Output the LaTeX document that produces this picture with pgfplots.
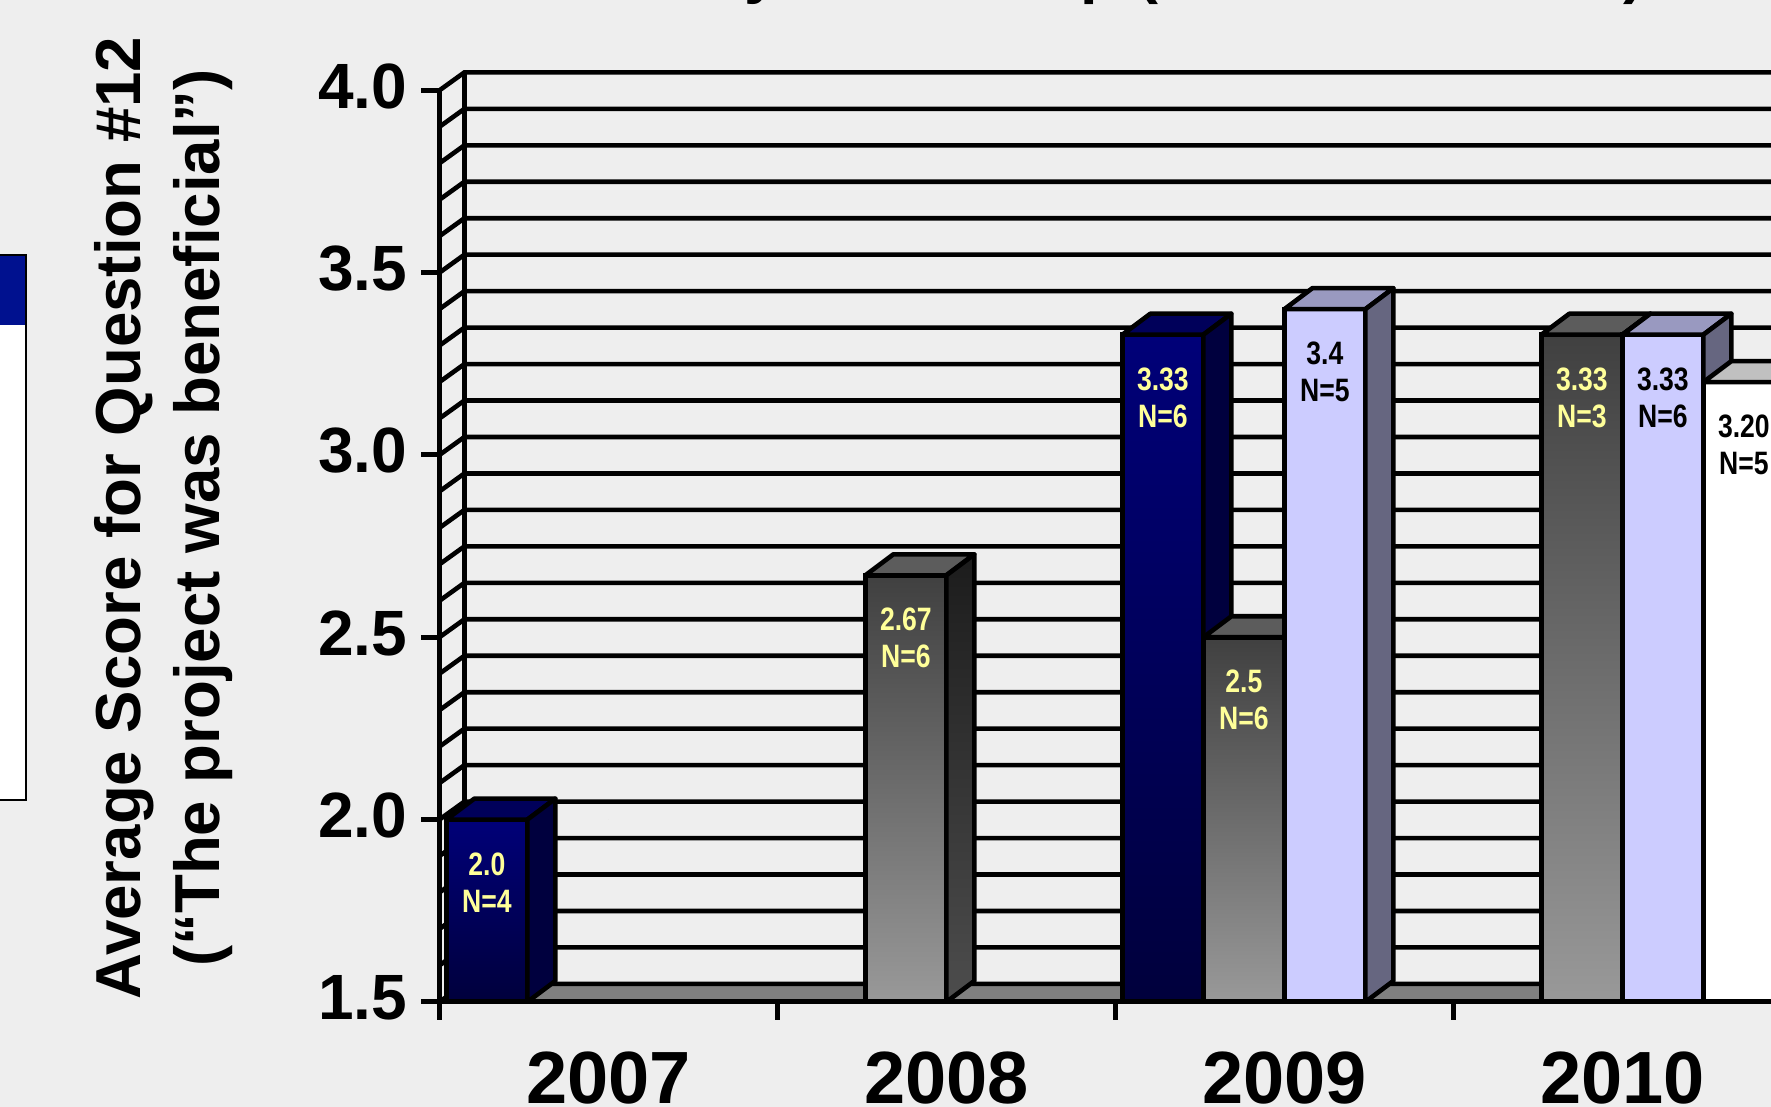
\documentclass[border=0pt]{standalone}
\usepackage{fontspec}
\setmainfont{Liberation Sans}
\newfontfamily\narrowfont{Liberation Sans}[FakeStretch=0.82]
\usepackage{pgfplots}
\usepackage{pgfplotstable}
\pgfplotsset{compat=1.18}

% colours
\definecolor{bg}{HTML}{EEEEEE}
\definecolor{floorgray}{HTML}{808080}
\definecolor{navytop}{HTML}{000078}
\definecolor{navybot}{HTML}{00003C}
\definecolor{navyside}{HTML}{00003E}
\definecolor{navylid}{HTML}{00005A}
\definecolor{graytop}{HTML}{404040}
\definecolor{graybot}{HTML}{999999}
\definecolor{grayside1}{HTML}{1C1C1C}
\definecolor{grayside2}{HTML}{4D4D4D}
\definecolor{graylid}{HTML}{5C5C5C}
\definecolor{lav}{HTML}{CCCCFF}
\definecolor{lavside}{HTML}{666680}
\definecolor{lavlid}{HTML}{9999C0}
\definecolor{whiteside}{HTML}{A0A0A0}
\definecolor{whitelid}{HTML}{C0C0C0}
\definecolor{lblyellow}{HTML}{FFFF99}
\definecolor{legblue}{HTML}{00118F}

\newcommand\lw{2.3bp}
\newcommand\lblfont{\narrowfont\bfseries\fontsize{16.2bp}{18.5bp}\selectfont}
\newcommand\yearfont{\bfseries\fontsize{37bp}{40bp}\selectfont}
\newcommand\ytickfont{\bfseries\fontsize{32bp}{36bp}\selectfont}

% average score per year (cat: 0=2007 ... 3=2010), n = respondents
\pgfplotstableread{
cat v n
0 2.0 4
2 3.33 6
}\tblnavy
\pgfplotstableread{
cat v n
1 2.67 6
2 2.5 6
3 3.33 3
}\tblgray
\pgfplotstableread{
cat v n
2 3.4 5
3 3.33 6
}\tbllav
\pgfplotstableread{
cat v n
3 3.20 5
}\tblwhite

% one series of 3-D bars: front faces as ybar (one plot per bar so each
% gets its own gradient), side and lid drawn from the same values
% #1 table, #2 categories, #3 bar shift, #4 front fill, #5 side fill,
% #6 lid fill, #7 label colour
\newcommand\barseries[7]{%
  \pgfplotsinvokeforeach{#2}{%
    \addplot[ybar, bar width=40.5bp, bar shift=#3, draw=black, line width=\lw, #4,
      restrict x to domain=##1:##1,
      point meta=explicit symbolic,
      visualization depends on={\thisrow{n}\as\nval},
      nodes near coords={\pgfplotspointmeta\\N=\pgfmathprintnumber{\nval}},
      every node near coord/.append style={anchor=center, xshift=#3, yshift=-31.5bp,
        text=#7, font=\lblfont, align=center, inner sep=0pt}]
      table[x=cat, y expr=\thisrow{v}-1.5, meta=v] {#1};
  }
  \addplot[only marks, scatter, mark=*, mark size=0pt,
    scatter/use mapped color={draw=none, fill=none},
    visualization depends on={\thisrow{v}-1.5 \as \barval},
    scatter/@pre marker code/.code={%
      \pgfmathsetmacro\barhgt{\barval*182.3}%
      \path[#6, draw=black, line width=\lw, line join=round]
        (#3-20.25bp,0pt) -- ++(14bp,10.5bp) -- ++(40.5bp,0pt)
        -- (#3+20.25bp,0pt) -- cycle;
      \path[#5, draw=black, line width=\lw, line join=round]
        (#3+20.25bp,0pt) -- ++(14bp,10.5bp) -- ++(0pt,-\barhgt bp)
        -- (#3+20.25bp,-\barhgt bp) -- cycle;
    },
    scatter/@post marker code/.code={}]
    table[x=cat, y expr=\thisrow{v}-1.5] {#1};
}

\begin{document}
\begin{tikzpicture}
\path[use as bounding box] (0,0) rectangle (885.5bp,553.5bp);
\clip (0,0) rectangle (885.5bp,553.5bp);
\fill[bg] (0,0) rectangle (885.5bp,553.5bp);

% title
\node[anchor=base east, inner sep=0pt, font=\bfseries\fontsize{31.5bp}{36bp}\selectfont]
  at (822.5bp,557.5bp) {Overall Results by Site Group (Mean of Scores)};

% legend box at the left edge
\draw[line width=1bp, fill=white] (-20bp,153.5bp) rectangle (13bp,426bp);
\fill[legblue] (-20bp,391bp) rectangle (13bp,426bp);
\draw[line width=1bp] (-20bp,153.5bp) rectangle (13bp,426bp);

% y-axis title
\node[rotate=90, align=center, inner sep=0pt,
      font=\bfseries\fontsize{31.8bp}{39.5bp}\selectfont]
  at (81.75bp,294.5bp)
  {Average Score for Question \#12\\(“The project was beneficial”)};

\begin{axis}[
  at={(219.7bp,52.55bp)}, anchor=south west,
  x=169bp, y=182.3bp,
  xmin=-0.5, xmax=3.5, ymin=0, ymax=2.5,
  clip=false, clip marker paths=true, axis on top,
  axis x line=bottom, axis y line=left,
  axis line style={-, line width=2.5bp, black},
  tick align=outside,
  major tick length=9bp,
  tick style={line width=2.5bp, black},
  xtick={-0.5,0.5,1.5,2.5,3.5}, xticklabels={},
  extra x ticks={0,1,2,3},
  extra x tick labels={2007,2008,2009,2010},
  extra x tick style={major tick length=0pt,
    xticklabel style={font=\yearfont, inner sep=0pt, yshift=-25bp}},
  ytick={0,0.5,1,1.5,2,2.5},
  yticklabels={1.5,2.0,2.5,3.0,3.5,4.0},
  yticklabel style={font=\ytickfont, inner sep=0pt, xshift=-7bp, yshift=2bp},
  /pgf/number format/assume math mode=true,
]
% floor
\fill[floorgray] (axis cs:-0.5,0) -- ++(12.5bp,9bp)
  -- ([shift={(12.5bp,9bp)}]axis cs:3.5,0) -- (axis cs:3.5,0) -- cycle;
% side wall and back wall grid, every 0.1
\pgfplotsinvokeforeach{0,...,25}{
  \draw[line width=\lw, line join=miter]
    (axis cs:-0.5,#1*0.1) -- ++(12.5bp,9bp)
    -- ([shift={(12.5bp,9bp)}]axis cs:3.5,#1*0.1);
}
\draw[line width=\lw] ([shift={(12.5bp,9bp)}]axis cs:-0.5,0)
  -- ([shift={(12.5bp,9bp)}]axis cs:-0.5,2.5);

\barseries{\tblnavy}{0,2}{-60.75bp}{top color=navytop, bottom color=navybot}{fill=navyside}{fill=navylid}{lblyellow}
\barseries{\tblgray}{1,2,3}{-20.25bp}{top color=graytop, bottom color=graybot}{top color=grayside1, bottom color=grayside2}{fill=graylid}{lblyellow}
\barseries{\tbllav}{2,3}{20.25bp}{fill=lav}{fill=lavside}{fill=lavlid}{black}
\barseries{\tblwhite}{3}{60.75bp}{fill=white}{fill=whiteside}{fill=whitelid}{black}
\end{axis}
\end{tikzpicture}
\end{document}
